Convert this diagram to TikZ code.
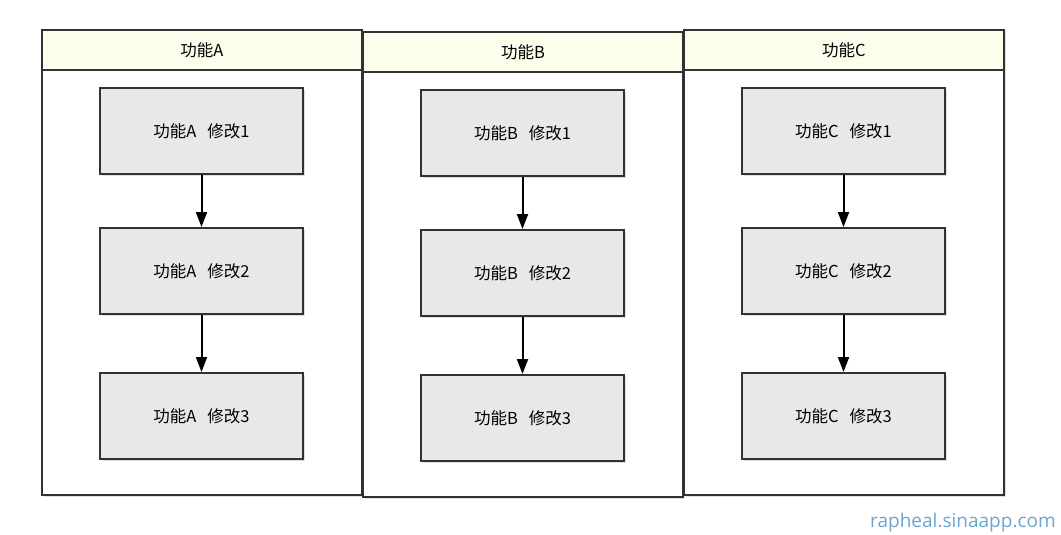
\documentclass[tikz,border=0pt]{standalone}
\usepackage{fontspec}
\setmainfont{Noto Sans CJK SC}
\newfontfamily\sitefont{Open Sans}
\usetikzlibrary{arrows.meta,shadows}
\definecolor{headfill}{RGB}{253,253,236}
\definecolor{stepfill}{RGB}{232,232,232}
\definecolor{edgegray}{RGB}{50,50,50}
\definecolor{siteblue}{RGB}{108,164,208}
\tikzset{
  lane/.style={draw=edgegray, line width=2pt, fill=white, anchor=north west, inner sep=0pt,
    minimum width=320pt, minimum height=465pt,
    drop shadow={shadow xshift=1.5pt, shadow yshift=-1.5pt, opacity=0.25}},
  lanetitle/.style={draw=edgegray, line width=2pt, fill=headfill, anchor=north west, inner sep=0pt,
    minimum width=320pt, minimum height=40pt, font=\fontsize{16.5}{20}\selectfont},
  change/.style={draw=edgegray, line width=2pt, fill=stepfill, inner sep=0pt,
    minimum width=203pt, minimum height=86pt, font=\fontsize{16.5}{20}\selectfont,
    drop shadow={shadow xshift=2pt, shadow yshift=-2pt, opacity=0.25}},
  flow/.style={black, line width=2pt, -{Triangle[length=15pt,width=11pt]}}
}
\begin{document}
\begin{tikzpicture}[x=1pt, y=-1pt]
  \useasboundingbox (0,0) rectangle (1061,535);
  % one lane per feature
  \foreach \name/\x/\y in {A/41/29, B/362/31, C/683/29} {
    \node[lane] (lane\name) at (\x,\y) {};
    \node[lanetitle] (head\name) at (\x,\y) {功能\name};
    \foreach \i/\dy in {1/102, 2/242, 3/387}
      \node[change] (c\name\i) at (\x+160.5,\y+\dy) {功能\name\hspace{11pt}修改\i};
    \draw[flow] (c\name1) -- (c\name2);
    \draw[flow] (c\name2) -- (c\name3);
  }
  \node[text=siteblue, font=\sitefont\fontsize{19}{22}\selectfont] (site) at (963,523) {rapheal.sinaapp.com};
\end{tikzpicture}
\end{document}
